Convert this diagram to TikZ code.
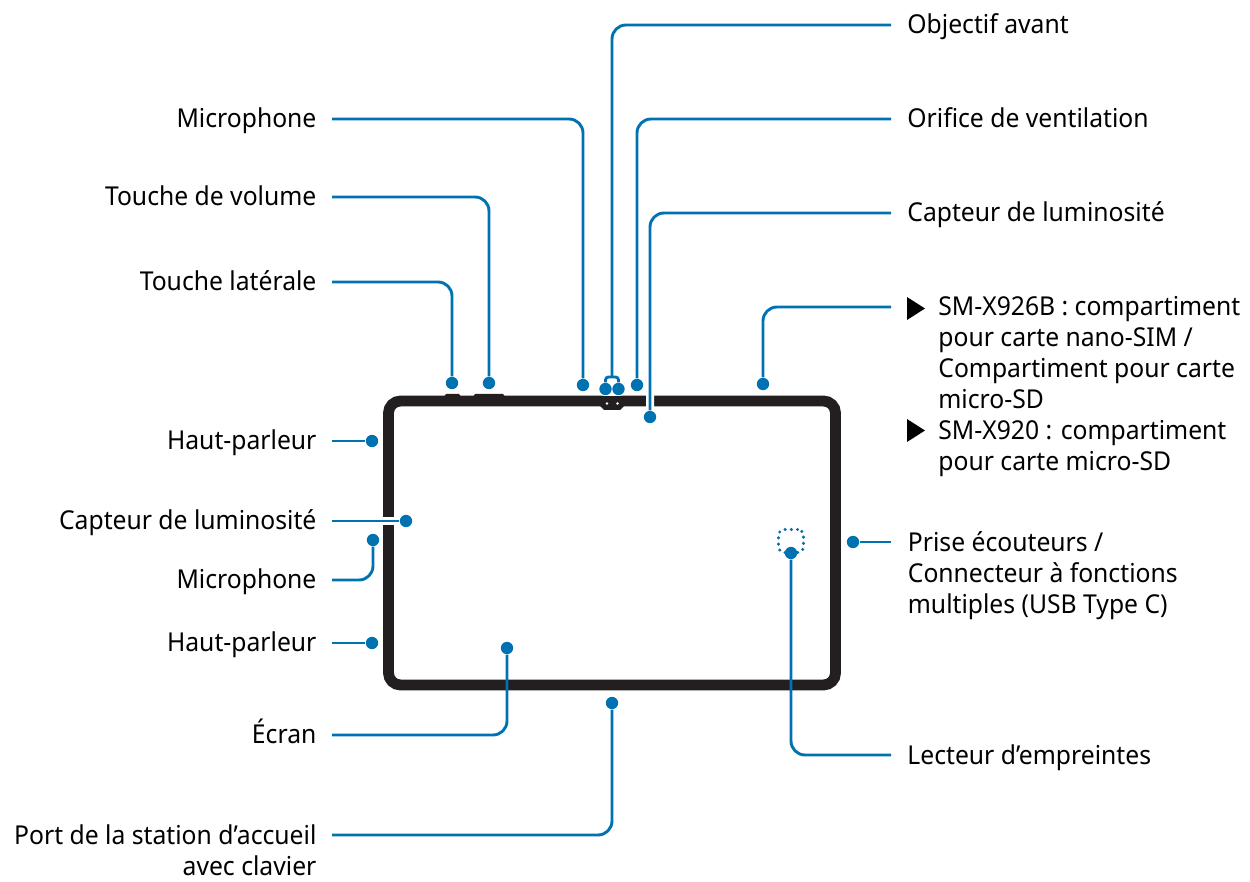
\documentclass[tikz,border=0pt]{standalone}
\usepackage{fontspec}
\setmainfont[FakeStretch=0.95]{Noto Sans}
\usepackage{xcolor}
\usepackage{tikz}
\definecolor{wireblue}{HTML}{0072B2}
\definecolor{bodyblack}{HTML}{231F20}

\begin{document}
\begin{tikzpicture}[x=0.5pt, y=-0.5pt]
            \tikzset{
                wire/.style={draw=wireblue, line width=1.45pt, rounded corners=7pt},
                halo_wire/.style={wire, preaction={draw=white, line width=4pt}},
                dot/.style={circle, fill=wireblue, inner sep=0pt, minimum size=6.2pt},
                left_label/.style={anchor=east, inner xsep=7.6pt, inner ysep=0pt, text height=12pt, text depth=3pt, font=\fontsize{13}{15.5}\selectfont},
                right_label/.style={anchor=west, inner xsep=8pt, inner ysep=0pt, text height=12pt, text depth=3pt, font=\fontsize{13}{15.5}\selectfont},
                block_label/.style={anchor=north west, inner sep=0pt, align=left, font=\fontsize{13}{15.5}\selectfont},
                sensor_box/.style={draw=wireblue, line width=1.7pt, line cap=round, dash pattern=on 0pt off 3.1pt, rounded corners=3pt, minimum width=12.5pt, minimum height=11.5pt, inner sep=0pt}
            }
            \useasboundingbox (0,0) rectangle (1250,882);
            % tablet body
            \draw[bodyblack, line width=5.4pt, rounded corners=6pt] (388.5,401) rectangle (835.5,685);
            \fill[bodyblack] (443,398) -- (446,394) -- (459,394) -- (462,398) -- cycle;
            \fill[bodyblack] (472,398) -- (475,394) -- (503,394) -- (506,398) -- cycle;
            \fill[bodyblack] (598,404) -- (604,410) -- (620,410) -- (626,404) -- cycle;
            \fill[white] (607,403.5) circle (1.4) (617.5,403.5) circle (1.4);
            \draw[white, line width=8.5pt, line cap=round] (605.5,388) -- (618.5,388);
            % left labels
            \node[left_label] (mic_top) at (332,119) {Microphone};
            \node[left_label] (volume) at (332,197) {Touche de volume};
            \node[left_label] (side_key) at (332,282) {Touche latérale};
            \node[left_label] (speaker_a) at (332,441) {Haut-parleur};
            \node[left_label] (light_left) at (332,521) {Capteur de luminosité};
            \node[left_label] (mic_left) at (332,580) {Microphone};
            \node[left_label] (speaker_b) at (332,643) {Haut-parleur};
            \node[left_label] (screen) at (332,735) {Écran};
            \node[left_label, align=right, anchor=north east, text height=, text depth=] (dock) at (332,824) {Port de la station d’accueil\\avec clavier};
            \coordinate (dock_start) at (332,835);
            % right labels
            \node[right_label] (lens) at (891,25) {Objectif avant};
            \node[right_label] (vent) at (891,119) {Orifice de ventilation};
            \node[right_label] (light_top) at (891,213) {Capteur de luminosité};
            \node[block_label] (tray_a) at (938,296) {SM-X926B : compartiment\\pour carte nano-SIM /\\Compartiment pour carte\\micro-SD};
            \node[block_label] (tray_b) at (938,420) {SM-X920 : compartiment\\pour carte micro-SD};
            \coordinate (tray_start) at (891,307);
            \node[block_label] (port) at (907.5,531) {Prise écouteurs /\\Connecteur à fonctions\\multiples (USB Type C)};
            \coordinate (port_start) at (891,542);
            \node[right_label] (finger) at (891,755) {Lecteur d’empreintes};
            \fill[black] (907,297) -- (925,308.5) -- (907,320) -- cycle;
            \fill[black] (907,419) -- (925,430.5) -- (907,442) -- cycle;
            % end points
            \node[dot] (d_mic_top) at (583,385) {};
            \node[dot] (d_volume) at (489,383) {};
            \node[dot] (d_side_key) at (452,383) {};
            \node[dot] (d_speaker_a) at (372,441) {};
            \node[dot] (d_light_left) at (406,521) {};
            \node[dot] (d_mic_left) at (373,540) {};
            \node[dot] (d_speaker_b) at (372,643) {};
            \node[dot] (d_screen) at (507,648) {};
            \node[dot] (d_dock) at (612,703) {};
            \node[dot] (d_lens_a) at (605.5,389) {};
            \node[dot] (d_lens_b) at (618.5,389) {};
            \node[dot] (d_vent) at (637,385) {};
            \node[dot] (d_light_top) at (650,417) {};
            \node[dot] (d_tray) at (763,384) {};
            \node[dot] (d_port) at (853,542) {};
            \node[sensor_box] (sensor) at (791,541) {};
            \node[dot] (d_finger) at (791,553) {};
            \coordinate (fork) at (612,377);
            % connectors
            \draw[wire] (mic_top.east) -| (d_mic_top);
            \draw[wire] (volume.east) -| (d_volume);
            \draw[wire] (side_key.east) -| (d_side_key);
            \draw[wire] (speaker_a.east) -- (d_speaker_a);
            \draw[halo_wire] (light_left.east) -- (d_light_left);
            \draw[wire] (mic_left.east) -| (d_mic_left);
            \draw[wire] (speaker_b.east) -- (d_speaker_b);
            \draw[wire] (screen.east) -| (d_screen);
            \draw[wire] (dock_start) -| (d_dock);
            \draw[wire] (lens.west) -| (fork);
            \draw[wire, rounded corners=1.5pt] (d_lens_a) |- (fork) -| (d_lens_b);
            \draw[wire] (vent.west) -| (d_vent);
            \draw[halo_wire] (light_top.west) -| (d_light_top);
            \draw[wire] (tray_start) -| (d_tray);
            \draw[wire] (port_start) -- (d_port);
            \draw[wire] (finger.west) -| (d_finger);
        \end{tikzpicture}
\end{document}
